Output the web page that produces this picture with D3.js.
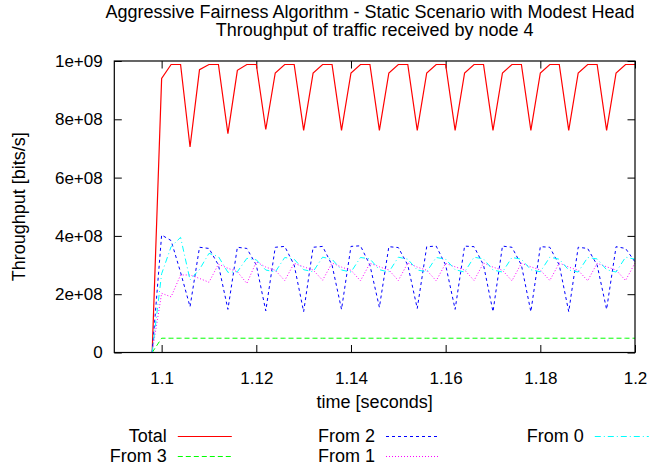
<!DOCTYPE html>
<html>
<head>
<meta charset="utf-8">
<script src="https://cdn.jsdelivr.net/npm/d3@7"></script>
<style>
  body { margin: 0; background: #fff; }
  svg text { font-family: "Liberation Sans", Arial, Helvetica, sans-serif; font-size: 18px; fill: #000; }
  .axis text { font-size: 17px; }
  .axis path.domain { display: none; }
  .axis line { stroke: #000; stroke-width: 1; }
</style>
</head>
<body>
<div id="chart"></div>
<script>
// Chart size and plot area (pixels)
var svgWidth = 651;
var svgHeight = 468;
var margin = {top: 61, right: 16, bottom: 115.5, left: 114.3};
var width = svgWidth - margin.left - margin.right;
var height = svgHeight - margin.top - margin.bottom;

// sample times (seconds)
var times = [1.098, 1.100, 1.102, 1.104, 1.106, 1.108, 1.110, 1.112, 1.114, 1.116, 1.118, 1.120,
  1.122, 1.124, 1.126, 1.128, 1.130, 1.132, 1.134, 1.136, 1.138, 1.140, 1.142, 1.144,
  1.146, 1.148, 1.150, 1.152, 1.154, 1.156, 1.158, 1.160, 1.162, 1.164, 1.166, 1.168,
  1.170, 1.172, 1.174, 1.176, 1.178, 1.180, 1.182, 1.184, 1.186, 1.188, 1.190, 1.192,
  1.194, 1.196, 1.198, 1.200];

// throughput per series, in Mbit/s
var total = [0, 940, 988, 988, 705, 970, 988, 988, 751, 968, 988, 988,
  765, 959, 988, 988, 762, 959, 988, 988, 762, 959, 988, 988,
  762, 959, 988, 988, 762, 959, 988, 988, 762, 959, 988, 988,
  762, 959, 988, 988, 762, 959, 988, 988, 762, 959, 988, 988,
  762, 959, 988, 988];
var from3 = [0, 49, 49, 49, 49, 49, 49, 49, 49, 49, 49, 49,
  49, 49, 49, 49, 49, 49, 49, 49, 49, 49, 49, 49,
  49, 49, 49, 49, 49, 49, 49, 49, 49, 49, 49, 49,
  49, 49, 49, 49, 49, 49, 49, 49, 49, 49, 49, 49,
  49, 49, 49, 49];
var from2 = [0, 403, 384, 275, 157, 361, 357, 300, 148, 361, 357, 300,
  143, 361, 364, 300, 140, 361, 364, 300, 148, 364, 366, 300,
  155, 363, 360, 300, 151, 363, 365, 300, 148, 365, 363, 300,
  140, 365, 361, 300, 140, 363, 361, 300, 140, 361, 357, 300,
  148, 363, 357, 311];
var from1 = [0, 203, 191, 266, 266, 254, 241, 303, 289, 277, 237, 311,
  293, 282, 247, 306, 294, 283, 248, 307, 293, 282, 246, 306,
  294, 283, 247, 307, 293, 282, 246, 306, 294, 283, 247, 307,
  293, 282, 246, 306, 294, 283, 247, 307, 293, 282, 246, 306,
  294, 283, 247, 307];
var from0 = [0, 270, 363, 395, 249, 285, 340, 329, 275, 277, 323, 318,
  283, 276, 326, 320, 284, 277, 327, 320, 283, 276, 326, 321,
  284, 276, 327, 320, 283, 277, 326, 320, 284, 276, 327, 321,
  283, 276, 326, 320, 284, 277, 327, 320, 283, 276, 326, 321,
  284, 276, 327, 320];

// tick values and labels
var xTicks = [1.1, 1.12, 1.14, 1.16, 1.18, 1.2];
var xTickLabels = ["1.1", "1.12", "1.14", "1.16", "1.18", "1.2"];
var yTicks = [0, 2e8, 4e8, 6e8, 8e8, 1e9];
var yTickLabels = ["0", "2e+08", "4e+08", "6e+08", "8e+08", "1e+09"];

// series in plotting order (gnuplot style colours / dashes)
var series = [
  {name: "Total",  values: total, color: "#ff0000", dash: null,      width: 1.2},
  {name: "From 3", values: from3, color: "#00ff00", dash: "5,3",     width: 1},
  {name: "From 2", values: from2, color: "#0000ff", dash: "3,3",     width: 1},
  {name: "From 1", values: from1, color: "#ff00ff", dash: "1,2",     width: 1},
  {name: "From 0", values: from0, color: "#00ffff", dash: "6,3,1,3", width: 1}
];

var svg = d3.select("#chart").append("svg")
  .attr("width", svgWidth).attr("height", svgHeight);

var chartGroup = svg.append("g")
  .attr("transform", `translate(${margin.left}, ${margin.top})`);

var xScale = d3.scaleLinear().domain([1.09, 1.2]).range([0, width]);
var yScale = d3.scaleLinear().domain([0, 1e9]).range([height, 0]);

// axes with inward ticks, mirrored on top and right
chartGroup.append("g").attr("class", "axis")
  .attr("transform", `translate(0, ${height})`)
  .call(d3.axisBottom(xScale).tickValues(xTicks)
    .tickFormat((d, i) => xTickLabels[i]).tickSizeInner(-7.5).tickSizeOuter(0).tickPadding(19.5));

chartGroup.append("g").attr("class", "axis")
  .call(d3.axisTop(xScale).tickValues(xTicks).tickFormat("").tickSizeInner(-7.5).tickSizeOuter(0));

chartGroup.append("g").attr("class", "axis")
  .call(d3.axisLeft(yScale).tickValues(yTicks)
    .tickFormat((d, i) => yTickLabels[i]).tickSizeInner(-7.5).tickSizeOuter(0).tickPadding(11.6));

chartGroup.append("g").attr("class", "axis")
  .attr("transform", `translate(${width}, 0)`)
  .call(d3.axisRight(yScale).tickValues(yTicks).tickFormat("").tickSizeInner(-7.5).tickSizeOuter(0));

chartGroup.selectAll(".axis").attr("font-size", null).attr("font-family", null);

// plot lines
var line = d3.line()
  .x((d, i) => xScale(times[i]))
  .y(d => yScale(d * 1e6));

chartGroup.selectAll(".series")
  .data(series).enter().append("path")
  .attr("class", "series")
  .attr("d", d => line(d.values))
  .attr("fill", "none")
  .attr("stroke", d => d.color)
  .attr("stroke-width", d => d.width)
  .attr("stroke-dasharray", d => d.dash);

// frame
chartGroup.append("rect")
  .attr("width", width).attr("height", height)
  .attr("fill", "none").attr("stroke", "#000").attr("stroke-width", 1.2);

// titles
svg.append("text").attr("x", 370).attr("y", 18).attr("text-anchor", "middle")
  .text("Aggressive Fairness Algorithm - Static Scenario with Modest Head");
svg.append("text").attr("x", 374.6).attr("y", 36).attr("text-anchor", "middle")
  .text("Throughput of traffic received by node 4");

svg.append("text")
  .attr("x", margin.left + width / 2).attr("y", 408).attr("text-anchor", "middle")
  .text("time [seconds]");

svg.append("text")
  .attr("transform", `translate(25, ${margin.top + height / 2}) rotate(-90)`)
  .attr("text-anchor", "middle")
  .text("Throughput [bits/s]");

// legend below the plot, filled column by column
var legendCols = [166.8, 375, 583.8];
var legendRows = [442, 462];
var legend = svg.selectAll(".legend")
  .data(series).enter().append("g")
  .attr("class", "legend")
  .attr("transform", (d, i) => `translate(${legendCols[Math.floor(i / 2)]}, ${legendRows[i % 2]})`);

legend.append("text").attr("text-anchor", "end").text(d => d.name);
legend.append("line")
  .attr("x1", 11).attr("x2", 65).attr("y1", -5.5).attr("y2", -5.5)
  .attr("stroke", d => d.color)
  .attr("stroke-width", d => d.width)
  .attr("stroke-dasharray", d => d.dash);
</script>
</body>
</html>
